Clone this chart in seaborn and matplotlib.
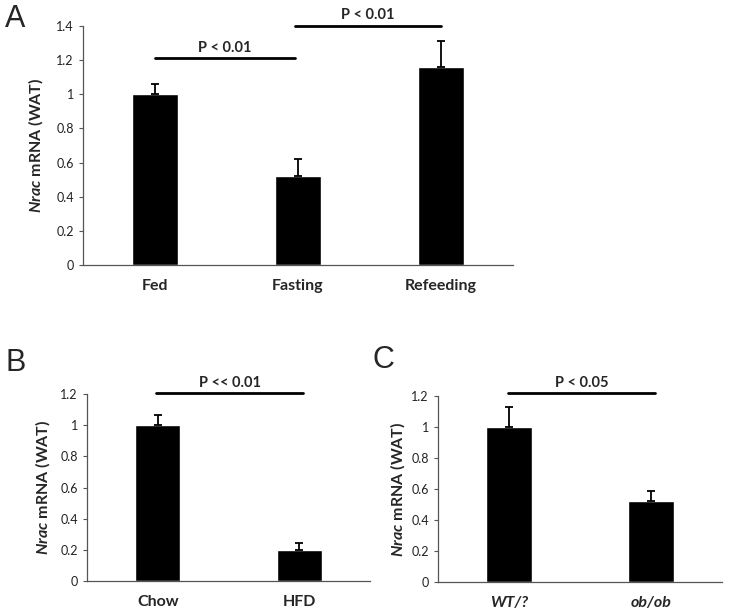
import numpy as np
import pandas as pd
import matplotlib
matplotlib.use("Agg")
import matplotlib.pyplot as plt
import seaborn as sns

# Panel A: feeding states
a_groups = ["Fed", "Fasting", "Refeeding"]
a_mean = [1.0, 0.52, 1.16]
a_err = [0.06, 0.10, 0.15]

# Panel B: diet
b_groups = ["Chow", "HFD"]
b_mean = [1.0, 0.20]
b_err = [0.065, 0.045]

# Panel C: genotype
c_groups = ["WT/?", "ob/ob"]
c_mean = [1.0, 0.52]
c_err = [0.13, 0.07]

sns.set_style("ticks")
plt.rcParams['font.family'] = ['Lato', 'DejaVu Sans']
plt.rcParams['mathtext.fontset'] = 'custom'
plt.rcParams['mathtext.it'] = 'Lato:italic:bold'

fig = plt.figure(figsize=(7.31, 6.16), dpi=100)
axA = fig.add_axes([0.1135, 0.5698, 0.588, 0.388])
axB = fig.add_axes([0.119, 0.0568, 0.387, 0.3036])
axC = fig.add_axes([0.599, 0.0552, 0.389, 0.302])

spine_col = "#555555"


def bar_panel(ax, groups, mean, err, ymax, step, italic=False):
    df = pd.DataFrame({"group": groups, "value": mean})
    sns.barplot(data=df, x="group", y="value", color="black", width=0.32,
                saturation=1, ax=ax, errorbar=None)
    pos = np.arange(len(groups))
    ax.errorbar(pos, mean, yerr=[np.zeros(len(err)), err], fmt="none",
                ecolor="black", elinewidth=1.3, capsize=3, capthick=1.3)
    ax.set_xlim(-0.5, len(groups) - 0.5)
    ax.set_ylim(0, ymax)
    ticks = np.arange(0, ymax + 1e-9, step)
    ax.set_yticks(ticks)
    ax.set_yticklabels(["0" if t == 0 else ("1" if abs(t - 1) < 1e-9 else f"{t:.1f}") for t in ticks])
    ax.tick_params(axis="y", labelsize=9, length=3, color=spine_col, width=0.8, labelcolor="#222222")
    ax.tick_params(axis="x", length=0, labelsize=11.5, pad=10)
    for lbl in ax.get_xticklabels():
        lbl.set_fontweight("bold")
        if italic:
            lbl.set_fontstyle("italic")
    ax.set_xlabel("")
    ax.set_ylabel(r"$\mathit{Nrac}$ mRNA (WAT)", fontsize=11.5, fontweight="bold")
    sns.despine(ax=ax)
    for s in ["left", "bottom"]:
        ax.spines[s].set_color(spine_col)
        ax.spines[s].set_linewidth(0.9)


def sig_line(ax, x0, x1, y, text):
    ax.plot([x0, x1], [y, y], color="black", lw=2, clip_on=False)
    ax.text((x0 + x1) / 2, y + ax.get_ylim()[1] * 0.015, text, ha="center", va="bottom",
            fontsize=10.5, fontweight="bold")


bar_panel(axA, a_groups, a_mean, a_err, 1.4, 0.2)
axA.yaxis.labelpad = 8
sig_line(axA, 0.0, 0.98, 1.212, "P < 0.01")
sig_line(axA, 0.98, 2.0, 1.40, "P < 0.01")

bar_panel(axB, b_groups, b_mean, b_err, 1.2, 0.2)
axB.yaxis.labelpad = 6
sig_line(axB, -0.01, 1.03, 1.205, "P << 0.01")

bar_panel(axC, c_groups, c_mean, c_err, 1.2, 0.2, italic=True)
axC.yaxis.labelpad = 3
sig_line(axC, -0.01, 1.03, 1.22, "P < 0.05")

fig.text(15 / 731, 1 - 19 / 616, "A", fontsize=22, family="Liberation Sans", ha="center", va="center")
fig.text(16 / 731, 1 - 363 / 616, "B", fontsize=22, family="Liberation Sans", ha="center", va="center")
fig.text(383 / 731, 1 - 360 / 616, "C", fontsize=22, family="Liberation Sans", ha="center", va="center")

fig.savefig("out.png", dpi=100)
